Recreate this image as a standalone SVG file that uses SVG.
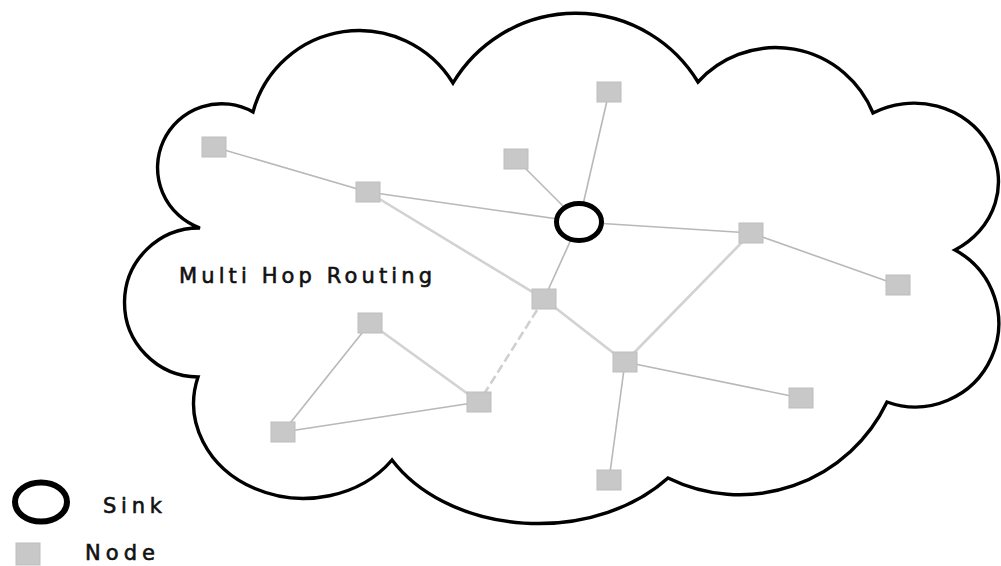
<svg xmlns="http://www.w3.org/2000/svg" width="1001" height="566" viewBox="0 0 1001 566">
  <style>
    .cloud { fill: #ffffff; stroke: #000000; stroke-width: 3.4; stroke-linejoin: miter; }
    .link { stroke: #b8b8b8; stroke-width: 1.6; fill: none; }
    .link-soft { stroke: #d2d2d2; stroke-width: 2.6; fill: none; }
    .link-dash { stroke: #d0d0d0; stroke-width: 2.6; fill: none; stroke-dasharray: 9 4; }
    .node rect { fill: #c8c8c8; stroke: #bdbdbd; stroke-width: 1; }
    .sink ellipse { fill: #ffffff; stroke: #000000; }
    .label { font-family: "DejaVu Sans", "Liberation Sans", sans-serif; font-size: 21px; fill: #111111; stroke: #111111; stroke-width: 0.6; }
  </style>

  <!-- cloud boundary of the sensor field -->
  <path class="cloud" d="M253,112
    A110,110 0 0 1 453,83
    A143,143 0 0 1 698,82
    A105,105 0 0 1 873,113
    A82,76 0 0 1 955,250
    A83.5,83.5 0 0 1 887,402
    A163,163 0 0 1 668,478
    A168,125 0 0 1 392,460
    A110,95 0 0 1 198,377
    A70,70 0 0 1 200,228
    A64,64 0 1 1 253,112 Z"/>

  <!-- routing links -->
  <g id="connectors">
    <line class="link" x1="214" y1="147" x2="368" y2="192"/>
    <line class="link" x1="368" y1="192" x2="579" y2="222"/>
    <line class="link" x1="516" y1="159" x2="579" y2="222"/>
    <line class="link" x1="609" y1="92" x2="579" y2="222"/>
    <line class="link" x1="579" y1="222" x2="751" y2="233"/>
    <line class="link" x1="751" y1="233" x2="898" y2="285"/>
    <line class="link" x1="579" y1="222" x2="544" y2="299"/>
    <line class="link-soft" x1="368" y1="192" x2="544" y2="299"/>
    <line class="link-soft" x1="751" y1="233" x2="625" y2="362"/>
    <line class="link-soft" x1="544" y1="299" x2="625" y2="362"/>
    <line class="link" x1="625" y1="362" x2="801" y2="398"/>
    <line class="link" x1="625" y1="362" x2="609" y2="480"/>
    <line class="link-dash" x1="544" y1="299" x2="479" y2="402"/>
    <line class="link-soft" x1="370" y1="323" x2="479" y2="402"/>
    <line class="link" x1="370" y1="323" x2="283" y2="432"/>
    <line class="link" x1="283" y1="432" x2="479" y2="402"/>
  </g>

  <!-- sensor nodes -->
  <g id="n1" class="node"><rect x="202" y="137" width="24" height="20"/></g>
  <g id="n2" class="node"><rect x="356" y="182" width="24" height="20"/></g>
  <g id="n3" class="node"><rect x="504" y="149" width="24" height="20"/></g>
  <g id="n4" class="node"><rect x="597" y="82" width="24" height="20"/></g>
  <g id="n5" class="node"><rect x="739" y="223" width="24" height="20"/></g>
  <g id="n6" class="node"><rect x="886" y="275" width="24" height="20"/></g>
  <g id="n7" class="node"><rect x="532" y="289" width="24" height="20"/></g>
  <g id="n8" class="node"><rect x="358" y="313" width="24" height="20"/></g>
  <g id="n9" class="node"><rect x="613" y="352" width="24" height="20"/></g>
  <g id="n10" class="node"><rect x="789" y="388" width="24" height="20"/></g>
  <g id="n11" class="node"><rect x="467" y="392" width="24" height="20"/></g>
  <g id="n12" class="node"><rect x="271" y="422" width="24" height="20"/></g>
  <g id="n13" class="node"><rect x="597" y="470" width="24" height="20"/></g>

  <!-- sink -->
  <g id="sink" class="sink"><ellipse cx="579" cy="222" rx="22.5" ry="18.5" stroke-width="5"/></g>

  <text id="title" class="label" x="179" y="283" textLength="253" lengthAdjust="spacing">Multi Hop Routing</text>

  <!-- legend -->
  <g id="legend-sink" class="sink">
    <ellipse cx="41" cy="502" rx="26" ry="19.5" stroke-width="6"/>
    <text class="label" x="103" y="513" textLength="59" lengthAdjust="spacing">Sink</text>
  </g>
  <g id="legend-node" class="node">
    <rect x="16" y="543" width="24" height="22"/>
    <text class="label" x="85" y="560" textLength="70" lengthAdjust="spacing">Node</text>
  </g>
</svg>
